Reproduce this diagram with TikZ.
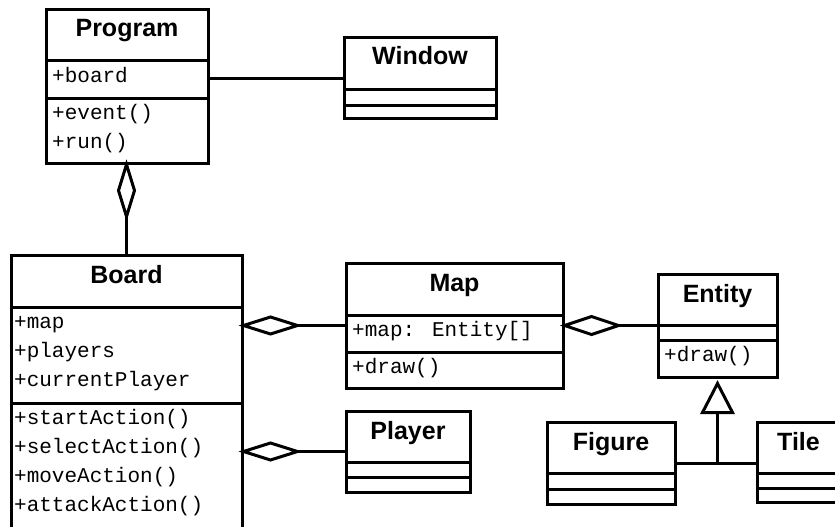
\documentclass[tikz,border=0pt]{standalone}
\usepackage{fontspec}
\setmainfont{Liberation Sans}
\newfontfamily\umlmono{Liberation Mono}
\usetikzlibrary{calc}
\begin{document}
\begin{tikzpicture}[x=1pt,y=-1pt,
  box/.style={draw, line width=3pt, rectangle, inner sep=0pt},
  sepline/.style={line width=3pt},
  title/.style={anchor=base, font=\fontsize{25}{29}\selectfont\bfseries, inner sep=0pt},
  member/.style={anchor=base west, font=\umlmono\fontsize{21}{29}\selectfont, inner sep=0pt},
  conn/.style={line width=3pt},
  diam/.style={line width=3pt, line join=miter, fill=white},
]
\useasboundingbox (0,0) rectangle (835,527);
\fill[white] (0,0) rectangle (835,527);
\clip (0,0) rectangle (835,527);

% class boxes
\node[box, minimum width=162pt, minimum height=153pt] (prog)   at (127,86.5) {};
\node[box, minimum width=152pt, minimum height=80pt]  (win)    at (420,78) {};
\node[box, minimum width=231pt, minimum height=290pt] (board)  at (126.5,400) {};
\node[box, minimum width=217pt, minimum height=125pt] (map)    at (454.5,325.5) {};
\node[box, minimum width=119pt, minimum height=103pt] (entity) at (717.5,325.5) {};
\node[box, minimum width=124pt, minimum height=81pt]  (player) at (408,451.5) {};
\node[box, minimum width=128pt, minimum height=82pt]  (figure) at (611,463) {};
\node[box, minimum width=128pt, minimum height=80pt]  (tile)   at (821,462) {};

% compartment separators
\draw[sepline] (46,61) -- (208,61);   \draw[sepline] (46,98) -- (208,98);
\draw[sepline] (344,89) -- (496,89);  \draw[sepline] (344,105) -- (496,105);
\draw[sepline] (11,307) -- (242,307); \draw[sepline] (11,403) -- (242,403);
\draw[sepline] (346,315) -- (563,315); \draw[sepline] (346,352) -- (563,352);
\draw[sepline] (658,325) -- (777,325); \draw[sepline] (658,340) -- (777,340);
\draw[sepline] (346,462) -- (470,462); \draw[sepline] (346,477) -- (470,477);
\draw[sepline] (547,473) -- (675,473); \draw[sepline] (547,489) -- (675,489);
\draw[sepline] (757,473) -- (885,473); \draw[sepline] (757,488) -- (885,488);

% titles
\node[title] (progT)   at (127,37)    {Program};
\node[title] (winT)    at (420,65)    {Window};
\node[title] (boardT)  at (126.5,283) {Board};
\node[title] (mapT)    at (454.5,291) {Map};
\node[title] (entityT) at (717.5,302) {Entity};
\node[title] (playerT) at (408,439)   {Player};
\node[title] (figureT) at (611,450)   {Figure};
\node[title] (tileT)   at (798.5,450) {Tile};

% members
\node[member] (p1) at (52,82.5)  {+board};
\node[member] (p2) at (52,119.5) {+event()};
\node[member] (p3) at (52,148.5) {+run()};

\node[member] (b1) at (14,328.5) {+map};
\node[member] (b2) at (14,357.5) {+players};
\node[member] (b3) at (14,386.5) {+currentPlayer};
\node[member] (b4) at (14,424.5) {+startAction()};
\node[member] (b5) at (14,453.5) {+selectAction()};
\node[member] (b6) at (14,482.5) {+moveAction()};
\node[member] (b7) at (14,511.5) {+attackAction()};

\node[member] (m1) at (352,336.5) {+map: Entity[]};
\node[member] (m2) at (352,373.5) {+draw()};

\node[member] (e1) at (664,361.5) {+draw()};

% connectors
\draw[conn] (win.west) -- (win.west -| prog.east);

% Program <>-- Board
\coordinate (pd) at (board.north |- prog.south);
\draw[conn] (board.north) -- ($(pd)+(0,52)$);
\draw[diam] (pd) -- ++(8,26) -- ++(-8,26) -- ++(-8,-26) -- cycle;

% Board <>-- Map
\coordinate (bm) at (map.west -| board.east);
\draw[conn] (map.west) -- ($(bm)+(54,0)$);
\draw[diam] (bm) -- ++(27,-8.5) -- ++(27,8.5) -- ++(-27,8.5) -- cycle;

% Board <>-- Player
\coordinate (bp) at (player.west -| board.east);
\draw[conn] (player.west) -- ($(bp)+(54,0)$);
\draw[diam] (bp) -- ++(27,-8.5) -- ++(27,8.5) -- ++(-27,8.5) -- cycle;

% Map <>-- Entity
\coordinate (me) at (map.east |- entity.west);
\draw[conn] (entity.west) -- ($(me)+(54,0)$);
\draw[diam] (me) -- ++(27,-9) -- ++(27,9) -- ++(-27,9) -- cycle;

% Figure, Tile --|> Entity
\coordinate (junction) at (entity.south |- figure.east);
\coordinate (apex) at ($(entity.south)+(0,5)$);
\draw[conn] (figure.east) -- (figure.east -| tile.west);
\draw[conn] (junction) -- ($(apex)+(0,29)$);
\draw[diam] (apex) -- ++(15,29) -- ++(-30,0) -- cycle;
\end{tikzpicture}
\end{document}
